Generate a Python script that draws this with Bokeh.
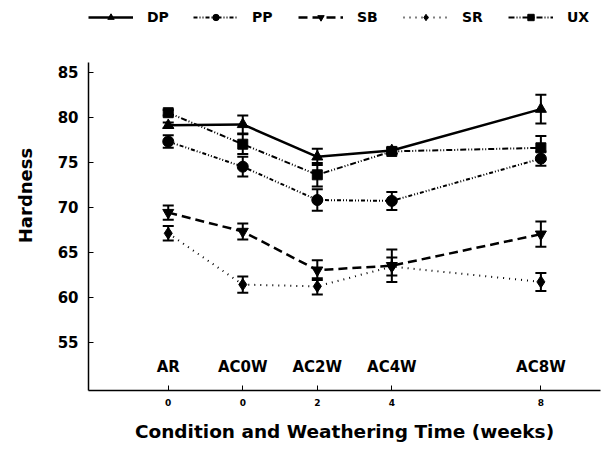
from bokeh.plotting import figure
from bokeh.models import (ColumnDataSource, Whisker, TeeHead, Legend, LegendItem,
                          FixedTicker, Range1d)
from bokeh.core.properties import value
from bokeh.embed import file_html
from bokeh.resources import INLINE

conditions = ["AR", "AC0W", "AC2W", "AC4W", "AC8W"]
x_pos = [-2, 0, 2, 4, 8]
tick_labels = ["0", "0", "2", "4", "8"]

dp = [79.1, 79.2, 75.6, 76.3, 80.9]
dp_err = [0.3, 1.0, 0.9, 0.3, 1.6]
pp = [77.3, 74.5, 70.8, 70.7, 75.4]
pp_err = [0.7, 1.1, 1.2, 1.0, 0.8]
sb = [69.4, 67.3, 63.0, 63.5, 67.0]
sb_err = [0.8, 0.9, 1.1, 1.8, 1.4]
sr = [67.1, 61.4, 61.2, 63.4, 61.7]
sr_err = [0.8, 0.9, 0.9, 1.0, 1.0]
ux = [80.5, 77.0, 73.6, 76.2, 76.6]
ux_err = [0.3, 1.1, 1.3, 0.3, 1.3]

FONT = "DejaVu Sans"

p = figure(width=613, height=449, output_backend="svg", toolbar_location=None,
           x_range=Range1d(-4.14, 9.6), y_range=Range1d(49.63, 92.97),
           min_border_left=88, min_border_right=13, min_border_top=0,
           min_border_bottom=59)
p.outline_line_color = None
p.xgrid.visible = False
p.ygrid.visible = False
p.background_fill_color = "white"
p.border_fill_color = "white"

series = [
    ("DP", dp, dp_err, "triangle", "solid", 2.5, 11),
    ("PP", pp, pp_err, "circle", "4 2 1 2 1 2", 2, 11),
    ("SB", sb, sb_err, "inverted_triangle", "9 5", 2.5, 11),
    ("SR", sr, sr_err, "diamond", "1 5", 2, 12),
    ("UX", ux, ux_err, "square", "6 2 1 2 1 2", 2, 10),
]

items = []
for name, vals, errs, marker, dash, lw, size in series:
    src = ColumnDataSource(dict(
        x=x_pos, y=vals,
        lo=[v - e for v, e in zip(vals, errs)],
        hi=[v + e for v, e in zip(vals, errs)]))
    w = Whisker(source=src, base="x", lower="lo", upper="hi",
                line_color="black", line_width=2,
                upper_head=TeeHead(size=11, line_width=2, line_color="black"),
                lower_head=TeeHead(size=11, line_width=2, line_color="black"))
    p.add_layout(w)
    ln = p.line("x", "y", source=src, line_color="black", line_width=lw,
                line_dash=dash)
    sc = p.scatter("x", "y", source=src, marker=marker, size=size,
                   fill_color="black", line_color="black")
    items.append(LegendItem(label=name, renderers=[ln, sc]))

legend = Legend(items=items, orientation="horizontal", location=(0, 365),
                glyph_width=45, glyph_height=16, label_standoff=14,
                label_width=30, spacing=16, padding=0, margin=0,
                border_line_color=None, background_fill_alpha=0,
                label_text_font=FONT, label_text_font_style="bold",
                label_text_font_size="14px", label_text_color="black",
                label_height=16)
p.add_layout(legend)

p.text(x=x_pos, y=[52.2] * len(x_pos), text=conditions,
       text_align="center", text_baseline="middle",
       text_font=value(FONT), text_font_style="bold",
       text_font_size="15px", text_color="black")

xa = p.xaxis[0]
xa.ticker = FixedTicker(ticks=x_pos)
xa.major_label_overrides = {x: t for x, t in zip(x_pos, tick_labels)}
xa.major_tick_in = 5
xa.major_tick_out = 0
xa.minor_tick_in = 0
xa.minor_tick_out = 0
xa.major_label_standoff = 8
xa.major_label_text_font = FONT
xa.major_label_text_font_style = "bold"
xa.major_label_text_font_size = "9px"
xa.major_label_text_color = "black"
xa.axis_label = "Condition and Weathering Time (weeks)"
xa.axis_label_text_font = FONT
xa.axis_label_text_font_style = "bold"
xa.axis_label_text_font_size = "18.5px"
xa.axis_label_text_color = "black"
xa.axis_label_standoff = 12
xa.axis_line_width = 1.5
xa.axis_line_color = "black"
xa.major_tick_line_color = "black"

ya = p.yaxis[0]
ya.ticker = FixedTicker(ticks=[55, 60, 65, 70, 75, 80, 85])
ya.bounds = (49.63, 86.1)
ya.major_tick_in = 5
ya.major_tick_out = 0
ya.minor_tick_in = 0
ya.minor_tick_out = 0
ya.major_label_standoff = 10
ya.major_label_text_font = FONT
ya.major_label_text_font_style = "bold"
ya.major_label_text_font_size = "15px"
ya.major_label_text_color = "black"
ya.axis_label = "Hardness"
ya.axis_label_text_font = FONT
ya.axis_label_text_font_style = "bold"
ya.axis_label_text_font_size = "18px"
ya.axis_label_text_color = "black"
ya.axis_label_standoff = 19
ya.axis_line_width = 1.5
ya.axis_line_color = "black"
ya.major_tick_line_color = "black"

open("out.html", "w").write(file_html(p, INLINE))
